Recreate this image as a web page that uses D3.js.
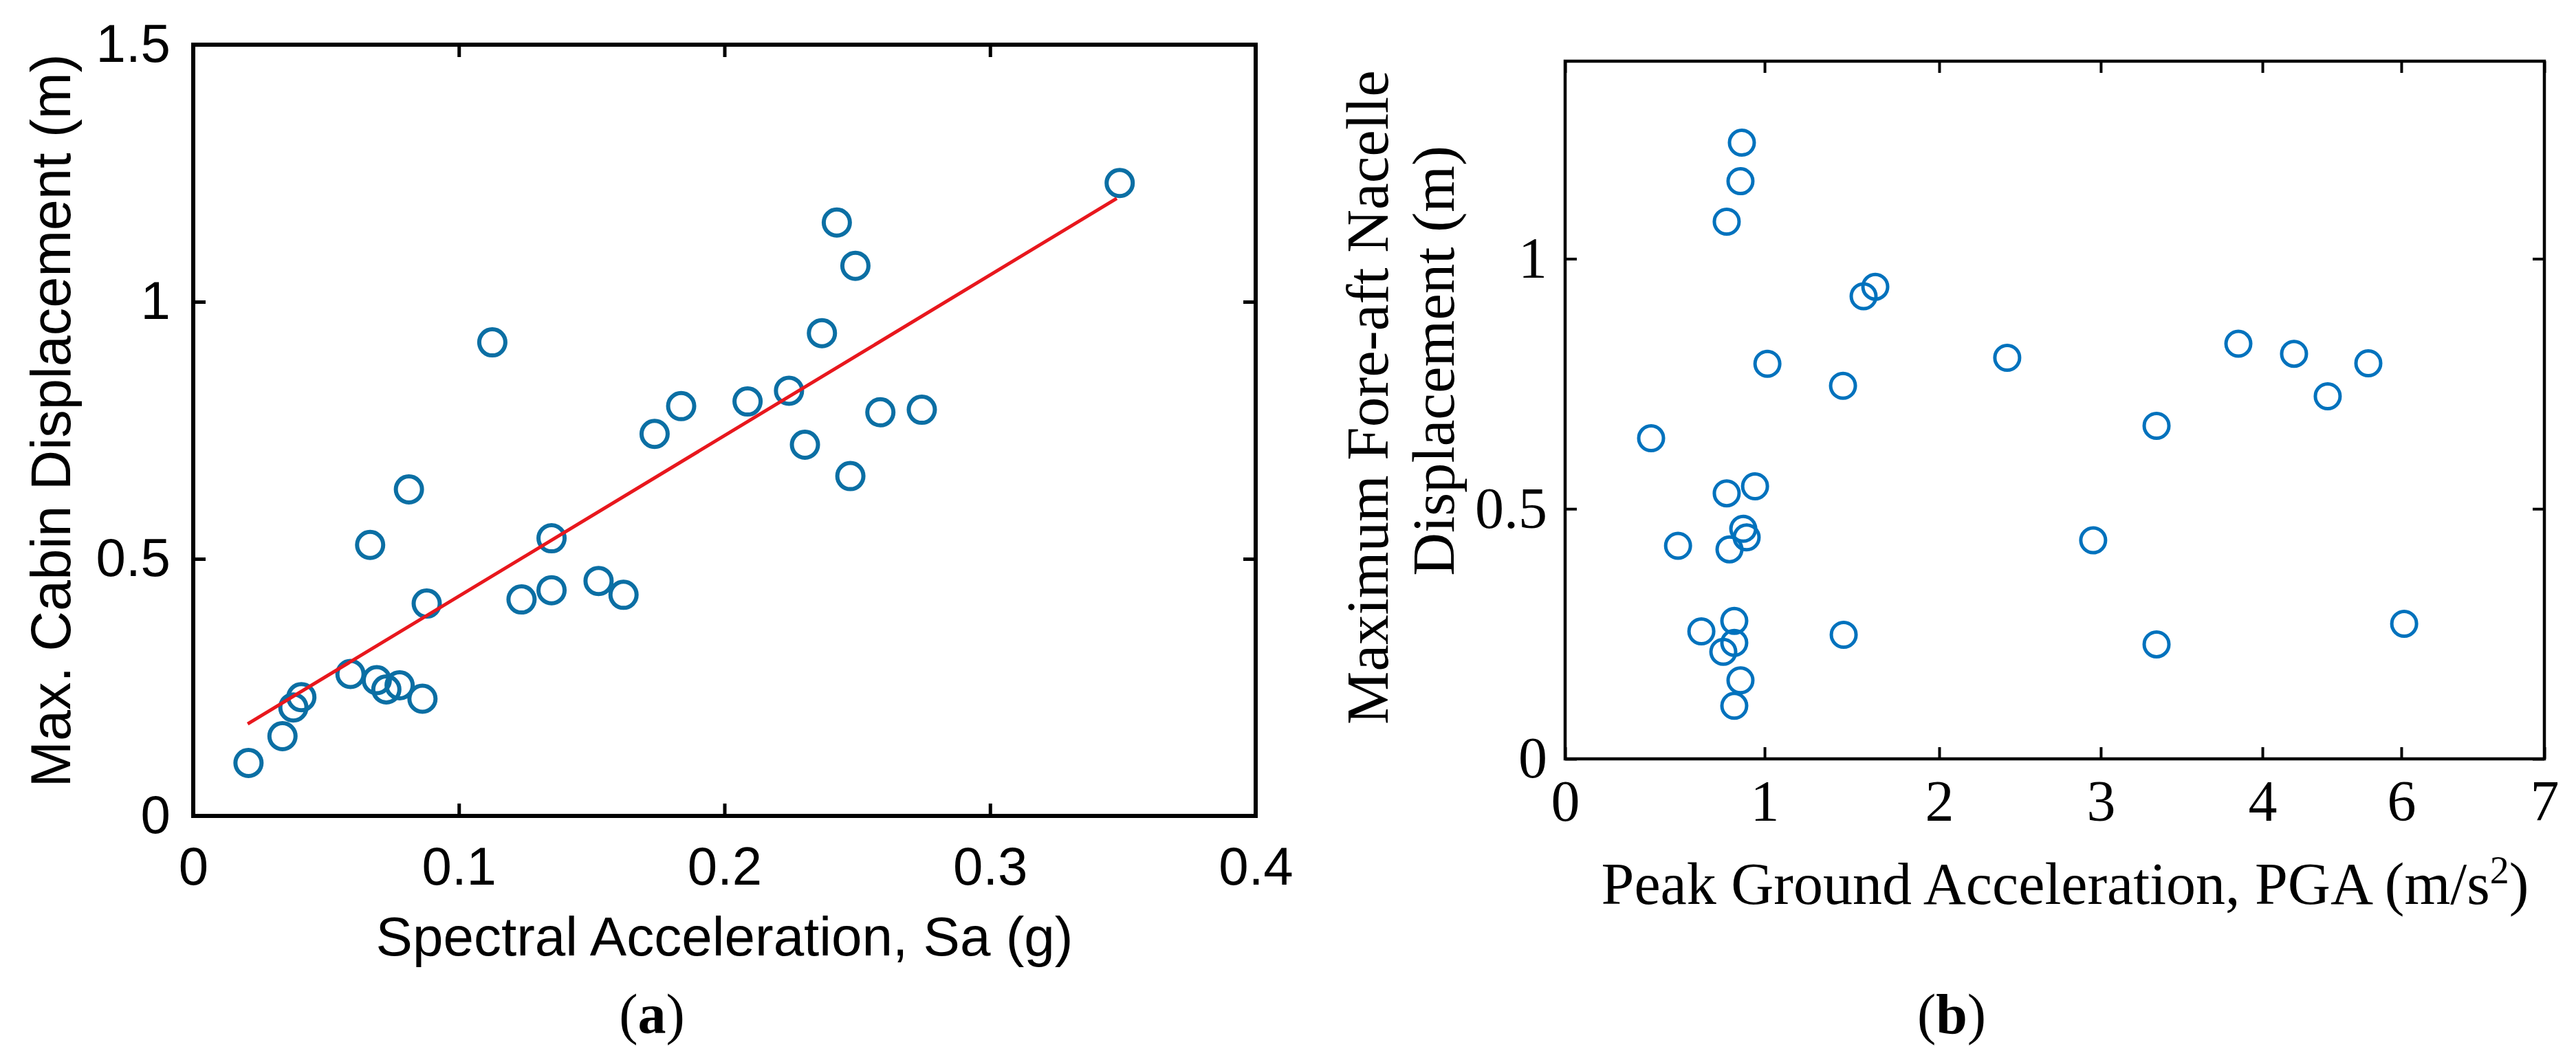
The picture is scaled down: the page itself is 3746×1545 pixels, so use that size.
<!DOCTYPE html>
<html>
<head>
<meta charset="utf-8">
<script src="https://cdn.jsdelivr.net/npm/d3@7"></script>
<style>
  html, body { margin: 0; padding: 0; background: #ffffff; }
  svg { display: block; }
</style>
</head>
<body>
<svg id="chart" width="3746" height="1545"></svg>
<script>
// ---------- Data: panel (a) ----------
const saValues = [0.0208, 0.0336, 0.0377, 0.0407, 0.0592, 0.0691, 0.0727, 0.0777, 0.0863, 0.0879,
                  0.0666, 0.0812, 0.1126, 0.1236, 0.1349, 0.1349, 0.1526, 0.1620, 0.1737, 0.1837,
                  0.2087, 0.2243, 0.2303, 0.2367, 0.2423, 0.2493, 0.2474, 0.2587, 0.2743, 0.3488];
const cabinDisp = [0.103, 0.155, 0.211, 0.231, 0.276, 0.264, 0.246, 0.254, 0.228, 0.413,
                   0.527, 0.635, 0.921, 0.421, 0.439, 0.540, 0.457, 0.430, 0.743, 0.797,
                   0.806, 0.827, 0.722, 0.939, 1.154, 1.070, 0.661, 0.785, 0.790, 1.231];
const fitX = [0.0205, 0.3477];
const fitY = [0.179, 1.201];
const xTicksA = [0, 0.1, 0.2, 0.3, 0.4];
const yTicksA = [0, 0.5, 1, 1.5];

// ---------- Data: panel (b) ----------
const pgaValues = [0.886, 0.879, 0.810, 1.567, 1.634, 1.016, 1.449, 0.431, 0.810, 0.952,
                   0.566, 0.824, 0.893, 0.910, 0.683, 0.848, 0.848, 0.793, 0.879, 0.848,
                   1.453, 2.421, 3.345, 2.953, 3.345, 3.851, 4.455, 4.940, 5.525, 6.020];
const nacelleDisp = [1.232, 1.155, 1.074, 0.925, 0.944, 0.790, 0.746, 0.641, 0.531, 0.545,
                     0.426, 0.419, 0.460, 0.443, 0.255, 0.276, 0.232, 0.214, 0.157, 0.106,
                     0.248, 0.802, 0.666, 0.437, 0.229, 0.830, 0.810, 0.725, 0.791, 0.270];
const xTicksB = [0, 1, 2, 3, 4, 6, 7];
const yTicksB = [0, 0.5, 1];

// ---------- Layout ----------
const svg = d3.select("#chart");
svg.append("rect").attr("width", 3746).attr("height", 1545).attr("fill", "#ffffff");

const A = { left: 281, right: 1826, top: 65, bottom: 1187 };
const B = { left: 2276, right: 3700, top: 89, bottom: 1104 };
// panel (b) tick marks are not evenly spaced in the original figure (fractions of the box width)
const xTickFracB = [0, 0.2037, 0.3820, 0.5470, 0.7121, 0.8539, 1];

const sansFont = "'Liberation Sans', Arial, Helvetica, sans-serif";
const serifFont = "'Liberation Serif', 'Times New Roman', Times, serif";

// ---------- Panel (a) ----------
const xA = d3.scaleLinear().domain([0, 0.4]).range([A.left, A.right]);
const yA = d3.scaleLinear().domain([0, 1.5]).range([A.bottom, A.top]);
const gA = svg.append("g");

function styleAxis(g, font, size, strokeW) {
  g.select(".domain").remove();
  g.selectAll(".tick line").attr("stroke", "#000").attr("stroke-width", strokeW);
  g.selectAll(".tick text").attr("fill", "#000").style("font-family", font).style("font-size", size + "px");
}

const tickLenA = 18;
gA.append("g").attr("transform", `translate(0,${A.bottom})`)
  .call(d3.axisBottom(xA).tickValues(xTicksA).tickSizeInner(-tickLenA).tickSizeOuter(0).tickPadding(45).tickFormat(d3.format("")))
  .call(g => styleAxis(g, sansFont, 78, 5));
gA.append("g").attr("transform", `translate(0,${A.top})`)
  .call(d3.axisTop(xA).tickValues(xTicksA).tickSizeInner(-tickLenA).tickSizeOuter(0).tickFormat(""))
  .call(g => styleAxis(g, sansFont, 78, 5));
gA.append("g").attr("transform", `translate(${A.left},0)`)
  .call(d3.axisLeft(yA).tickValues(yTicksA).tickSizeInner(-tickLenA).tickSizeOuter(0).tickPadding(33).tickFormat(d3.format("")))
  .call(g => styleAxis(g, sansFont, 78, 5));
gA.append("g").attr("transform", `translate(${A.right},0)`)
  .call(d3.axisRight(yA).tickValues(yTicksA).tickSizeInner(-tickLenA).tickSizeOuter(0).tickFormat(""))
  .call(g => styleAxis(g, sansFont, 78, 5));

gA.append("rect")
  .attr("x", A.left).attr("y", A.top)
  .attr("width", A.right - A.left).attr("height", A.bottom - A.top)
  .attr("fill", "none").attr("stroke", "#000").attr("stroke-width", 6);

const ptsA = saValues.map((v, i) => ({ x: v, y: cabinDisp[i] }));
gA.append("g").selectAll("circle").data(ptsA).join("circle")
  .attr("cx", d => xA(d.x)).attr("cy", d => yA(d.y)).attr("r", 19)
  .attr("fill", "none").attr("stroke", "#0b6fa4").attr("stroke-width", 6);

const fitPts = fitX.map((v, i) => [v, fitY[i]]);
gA.append("path").datum(fitPts)
  .attr("d", d3.line().x(d => xA(d[0])).y(d => yA(d[1])))
  .attr("fill", "none").attr("stroke", "#e8171d").attr("stroke-width", 5);

gA.append("text")
  .attr("x", (A.left + A.right) / 2).attr("y", 1390)
  .attr("text-anchor", "middle")
  .style("font-family", sansFont).style("font-size", "80px").attr("fill", "#000")
  .text("Spectral Acceleration, Sa (g)");
gA.append("text")
  .attr("transform", "translate(102,612) rotate(-90)")
  .attr("text-anchor", "middle")
  .style("font-family", sansFont).style("font-size", "81px").attr("fill", "#000")
  .text("Max. Cabin Displacement (m)");

const labA = gA.append("text").attr("x", 948).attr("y", 1503).attr("text-anchor", "middle")
  .style("font-family", serifFont).style("font-size", "82px").attr("fill", "#000");
labA.append("tspan").text("(");
labA.append("tspan").style("font-weight", "bold").text("a");
labA.append("tspan").text(")");

// ---------- Panel (b) ----------
const xB = d3.scaleLinear().domain(xTicksB)
  .range(xTickFracB.map(f => B.left + f * (B.right - B.left)));
const yB = d3.scaleLinear().domain([0, 1.395]).range([B.bottom, B.top]);
const gB = svg.append("g");
const tickLenB = 17;

gB.append("g").attr("transform", `translate(0,${B.bottom})`)
  .call(d3.axisBottom(xB).tickValues(xTicksB).tickSizeInner(-tickLenB).tickSizeOuter(0).tickPadding(30).tickFormat(d3.format("")))
  .call(g => styleAxis(g, serifFont, 84, 4));
gB.append("g").attr("transform", `translate(0,${B.top})`)
  .call(d3.axisTop(xB).tickValues(xTicksB).tickSizeInner(-tickLenB).tickSizeOuter(0).tickFormat(""))
  .call(g => styleAxis(g, serifFont, 84, 4));
gB.append("g").attr("transform", `translate(${B.left},0)`)
  .call(d3.axisLeft(yB).tickValues(yTicksB).tickSizeInner(-tickLenB).tickSizeOuter(0).tickPadding(26).tickFormat(d3.format("")))
  .call(g => styleAxis(g, serifFont, 84, 4));
gB.append("g").attr("transform", `translate(${B.right},0)`)
  .call(d3.axisRight(yB).tickValues(yTicksB).tickSizeInner(-tickLenB).tickSizeOuter(0).tickFormat(""))
  .call(g => styleAxis(g, serifFont, 84, 4));

gB.append("rect")
  .attr("x", B.left).attr("y", B.top)
  .attr("width", B.right - B.left).attr("height", B.bottom - B.top)
  .attr("fill", "none").attr("stroke", "#000").attr("stroke-width", 4.5);

const ptsB = pgaValues.map((v, i) => ({ x: v, y: nacelleDisp[i] }));
gB.append("g").selectAll("circle").data(ptsB).join("circle")
  .attr("cx", d => xB(d.x)).attr("cy", d => yB(d.y)).attr("r", 18)
  .attr("fill", "none").attr("stroke", "#0072bd").attr("stroke-width", 5);

const xtB = gB.append("text")
  .attr("x", 3003).attr("y", 1315).attr("text-anchor", "middle")
  .style("font-family", serifFont).style("font-size", "86px").attr("fill", "#000");
xtB.append("tspan").text("Peak Ground Acceleration, PGA (m/s");
xtB.append("tspan").attr("dy", "-30").style("font-size", "56px").text("2");
xtB.append("tspan").attr("dy", "30").text(")");

gB.append("text")
  .attr("transform", "translate(2018,578) rotate(-90)")
  .attr("text-anchor", "middle")
  .style("font-family", serifFont).style("font-size", "87px").attr("fill", "#000")
  .text("Maximum Fore-aft Nacelle");
gB.append("text")
  .attr("transform", "translate(2114,525) rotate(-90)")
  .attr("text-anchor", "middle")
  .style("font-family", serifFont).style("font-size", "87px").attr("fill", "#000")
  .text("Displacement (m)");

const labB = gB.append("text").attr("x", 2838).attr("y", 1503).attr("text-anchor", "middle")
  .style("font-family", serifFont).style("font-size", "82px").attr("fill", "#000");
labB.append("tspan").text("(");
labB.append("tspan").style("font-weight", "bold").text("b");
labB.append("tspan").text(")");
</script>
</body>
</html>
